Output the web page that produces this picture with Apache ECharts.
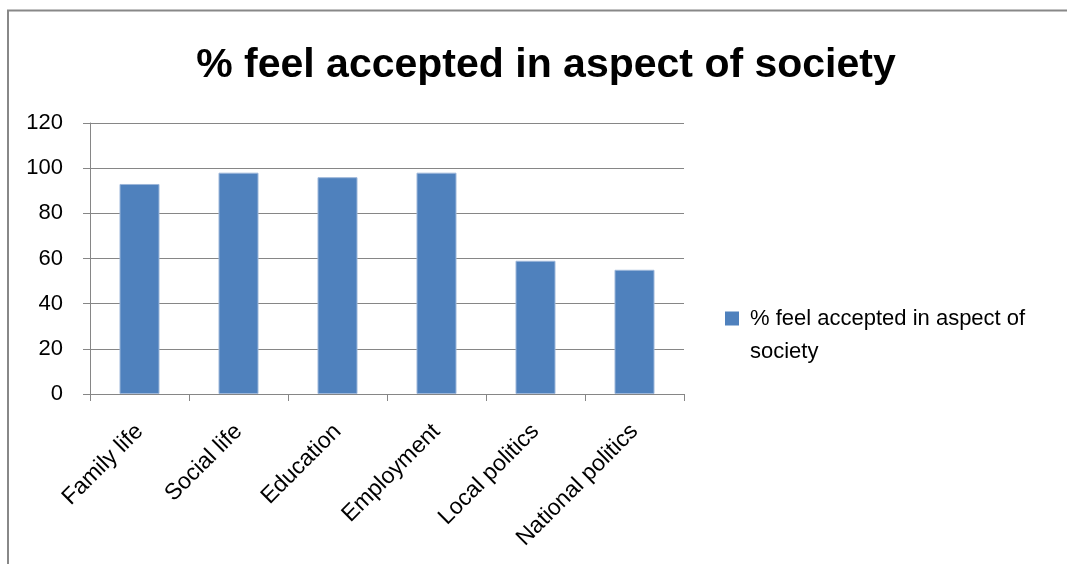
<!DOCTYPE html>
<html><head><meta charset="utf-8">
<script src="https://cdn.jsdelivr.net/npm/echarts@6/dist/echarts.min.js"></script>
<style>html,body{margin:0;padding:0;background:#fff}#c{width:1067px;height:564px}</style>
</head><body><div id="c"></div>
<script>
const categories = ['Family life','Social life','Education','Employment','Local politics','National politics'];
const values = [93, 98, 96, 98, 59, 55];
const seriesName = '% feel accepted in aspect of society';
const yTicks = {min:0, max:120, interval:20};

const chart = echarts.init(document.getElementById('c'));
const F = 'Liberation Sans';
chart.setOption({
  animation:false,
  textStyle:{fontFamily:F},
  graphic:[{type:'rect',shape:{x:8,y:10.5,width:1200,height:700},style:{fill:'none',stroke:'#888',lineWidth:2},silent:true}],
  title:{text:'% feel accepted in aspect of society',left:541,textAlign:'center',top:40,
    textStyle:{fontFamily:F,fontWeight:'bold',fontSize:41,color:'#000'}},
  legend:{left:725,top:302,padding:0,itemWidth:14,itemHeight:47,itemGap:0,
    itemStyle:{borderWidth:0},
    data:[{name:seriesName,icon:'path://M0,0L14,0L14,14L0,14Z M0,47L0.01,47L0,47Z'}],
    formatter:()=> '% feel accepted in aspect of\nsociety',
    textStyle:{fontFamily:F,fontSize:22,color:'#000',lineHeight:33,padding:[0,0,0,6]}},
  grid:{left:90,right:383,top:123,bottom:170,containLabel:false},
  xAxis:{type:'category',data:categories,
    axisLine:{lineStyle:{color:'#868686',width:1}},
    axisTick:{show:true,alignWithLabel:false,length:7,lineStyle:{color:'#868686'}},
    axisLabel:{rotate:45,fontSize:23,color:'#000',margin:34,interval:0}},
  yAxis:{type:'value',min:yTicks.min,max:yTicks.max,interval:yTicks.interval,
    axisLine:{show:true,lineStyle:{color:'#868686'}},
    axisTick:{show:true,length:7,lineStyle:{color:'#868686'}},
    splitLine:{lineStyle:{color:'#868686',width:1}},
    axisLabel:{fontSize:22,color:'#000',margin:27}},
  series:[{name:seriesName,type:'bar',data:values,barWidth:40,
    itemStyle:{color:'#4F81BD',borderColor:'#9DB7DA',borderWidth:1}}]
});
</script></body></html>
